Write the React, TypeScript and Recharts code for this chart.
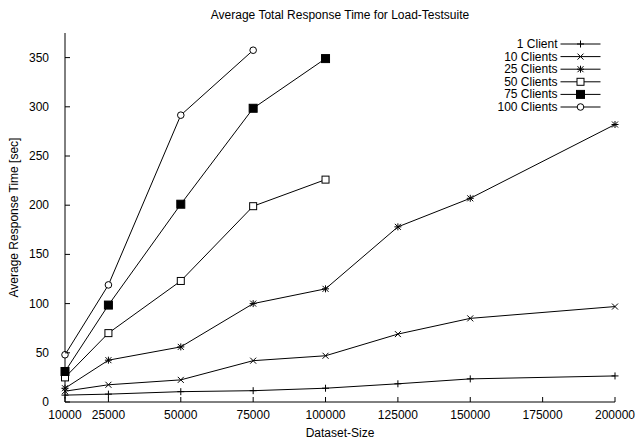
import { LineChart, Line, XAxis, YAxis, Legend } from 'recharts';

const sizes = [10000, 25000, 50000, 75000, 100000, 125000, 150000, 200000];
const client1 = [7, 8, 10.5, 11.5, 14, 18.5, 23.5, 26.5];
const client10 = [11, 17.5, 22.5, 42, 47, 69, 85, 97];
const client25 = [14, 42.5, 56, 100, 115, 178, 207, 282];
const client50 = [25, 70, 123, 199, 226];
const client75 = [31, 98.5, 201, 298.5, 349];
const client100 = [48, 119, 291.5, 357.5];

const xTicks = [10000, 25000, 50000, 75000, 100000, 125000, 150000, 175000, 200000];
const yTicks = [0, 50, 100, 150, 200, 250, 300, 350];

const series = [
  { key: 'c1', name: '1 Client', values: client1, shape: 'plus' },
  { key: 'c10', name: '10 Clients', values: client10, shape: 'cross' },
  { key: 'c25', name: '25 Clients', values: client25, shape: 'star' },
  { key: 'c50', name: '50 Clients', values: client50, shape: 'square' },
  { key: 'c75', name: '75 Clients', values: client75, shape: 'filledSquare' },
  { key: 'c100', name: '100 Clients', values: client100, shape: 'circle' },
];

const data = sizes.map((size, i) => {
  const row: Record<string, number | undefined> = { size };
  series.forEach((s) => {
    row[s.key] = s.values[i];
  });
  return row;
});

const FONT = '"Liberation Sans", Arial, Helvetica, sans-serif';

function Marker({ shape, cx, cy }: { shape: string; cx: number; cy: number }) {
  const r = 3.5;
  switch (shape) {
    case 'plus':
      return (
        <g stroke="#000" strokeWidth={1}>
          <line x1={cx - r} y1={cy} x2={cx + r} y2={cy} />
          <line x1={cx} y1={cy - r} x2={cx} y2={cy + r} />
        </g>
      );
    case 'cross':
      return (
        <g stroke="#000" strokeWidth={1}>
          <line x1={cx - 3} y1={cy - 3} x2={cx + 3} y2={cy + 3} />
          <line x1={cx - 3} y1={cy + 3} x2={cx + 3} y2={cy - 3} />
        </g>
      );
    case 'star':
      return (
        <g stroke="#000" strokeWidth={1}>
          <line x1={cx - 3} y1={cy - 3} x2={cx + 3} y2={cy + 3} />
          <line x1={cx - 3} y1={cy + 3} x2={cx + 3} y2={cy - 3} />
          <line x1={cx - r} y1={cy} x2={cx + r} y2={cy} />
          <line x1={cx} y1={cy - r} x2={cx} y2={cy + r} />
        </g>
      );
    case 'square':
      return <rect x={cx - 3.5} y={cy - 3.5} width={7} height={7} fill="#fff" stroke="#000" strokeWidth={1} />;
    case 'filledSquare':
      return <rect x={cx - 4} y={cy - 4} width={8} height={8} fill="#000" stroke="#000" strokeWidth={1} />;
    default:
      return <circle cx={cx} cy={cy} r={3.3} fill="#fff" stroke="#000" strokeWidth={1} />;
  }
}

const dotFor = (shape: string) => (props: any) => {
  if (props.cx == null || props.cy == null || props.value == null) return <g key={props.index} />;
  return (
    <g key={props.index}>
      <Marker shape={shape} cx={props.cx} cy={props.cy} />
    </g>
  );
};

const BottomTick = (props: any) => {
  const { x, y, payload } = props;
  return (
    <g>
      <line x1={x} y1={y} x2={x} y2={y - 5} stroke="#000" />
      <text x={x} y={y + 17} textAnchor="middle" fontSize={12} fontFamily={FONT} fill="#000">
        {payload.value}
      </text>
    </g>
  );
};

const TopTick = (props: any) => {
  const { x, y } = props;
  return <line x1={x} y1={y} x2={x} y2={y + 5} stroke="#000" />;
};

const LeftTick = (props: any) => {
  const { x, y, payload } = props;
  return (
    <g>
      <line x1={x} y1={y} x2={x + 5} y2={y} stroke="#000" />
      <text x={x - 16} y={y + 4} textAnchor="end" fontSize={12} fontFamily={FONT} fill="#000">
        {payload.value}
      </text>
    </g>
  );
};

const RightTick = (props: any) => {
  const { x, y } = props;
  return <line x1={x} y1={y} x2={x - 5} y2={y} stroke="#000" />;
};

function KeyBox() {
  return (
    <svg width={130} height={82} style={{ display: 'block' }}>
      {series.map((s, i) => {
        const cy = 8 + i * 12.6;
        return (
          <g key={s.key}>
            <text x={77.5} y={cy + 4} textAnchor="end" fontSize={12} fontFamily={FONT} fill="#000">
              {s.name}
            </text>
            <line x1={80.5} y1={cy} x2={120.5} y2={cy} stroke="#000" strokeWidth={1} />
            <Marker shape={s.shape} cx={100.5} cy={cy} />
          </g>
        );
      })}
    </svg>
  );
}

export default function App() {
  return (
    <div style={{ position: 'absolute', left: 0, top: 0, width: 637, height: 440, background: '#fff' }}>
      <div
        style={{
          position: 'absolute',
          left: 65,
          width: 550,
          top: 8,
          textAlign: 'center',
          fontSize: 12,
          fontFamily: FONT,
          color: '#000',
          lineHeight: '14px',
        }}
      >
        Average Total Response Time for Load-Testsuite
      </div>
      <LineChart width={637} height={440} data={data} margin={{ top: 33, right: 22, bottom: 0, left: 0 }}>
        <XAxis
          dataKey="size"
          type="number"
          domain={[10000, 200000]}
          ticks={xTicks}
          interval={0}
          height={38}
          tickSize={0}
          tickMargin={0}
          tickLine={false}
          axisLine={{ stroke: '#000' }}
          tick={<BottomTick />}
          label={{ value: 'Dataset-Size', position: 'insideBottom', offset: 3, fontSize: 12, fontFamily: FONT, fill: '#000' }}
        />
        <XAxis
          xAxisId="top"
          orientation="top"
          dataKey="size"
          type="number"
          domain={[10000, 200000]}
          ticks={xTicks}
          interval={0}
          height={0}
          tickSize={0}
          tickMargin={0}
          tickLine={false}
          axisLine={{ stroke: '#000' }}
          tick={<TopTick />}
        />
        <YAxis
          type="number"
          domain={[0, 375]}
          ticks={yTicks}
          interval={0}
          width={65}
          tickSize={0}
          tickMargin={0}
          tickLine={false}
          axisLine={{ stroke: '#000' }}
          tick={<LeftTick />}
          label={{
            value: 'Average Response Time [sec]',
            angle: -90,
            position: 'insideLeft',
            offset: 14,
            fontSize: 12,
            fontFamily: FONT,
            fill: '#000',
            style: { textAnchor: 'middle' },
          }}
        />
        <YAxis
          yAxisId="right"
          orientation="right"
          type="number"
          domain={[0, 375]}
          ticks={yTicks}
          interval={0}
          width={0}
          tickSize={0}
          tickMargin={0}
          tickLine={false}
          axisLine={{ stroke: '#000' }}
          tick={<RightTick />}
        />
        <Legend
          layout="horizontal"
          verticalAlign="middle"
          align="center"
          wrapperStyle={{ top: 36, left: 480, width: 130 }}
          content={() => <KeyBox />}
        />
        {series.map((s) => (
          <Line
            key={s.key}
            dataKey={s.key}
            name={s.name}
            stroke="#000"
            strokeWidth={1}
            dot={dotFor(s.shape)}
            activeDot={false}
            isAnimationActive={false}
          />
        ))}
      </LineChart>
    </div>
  );
}
